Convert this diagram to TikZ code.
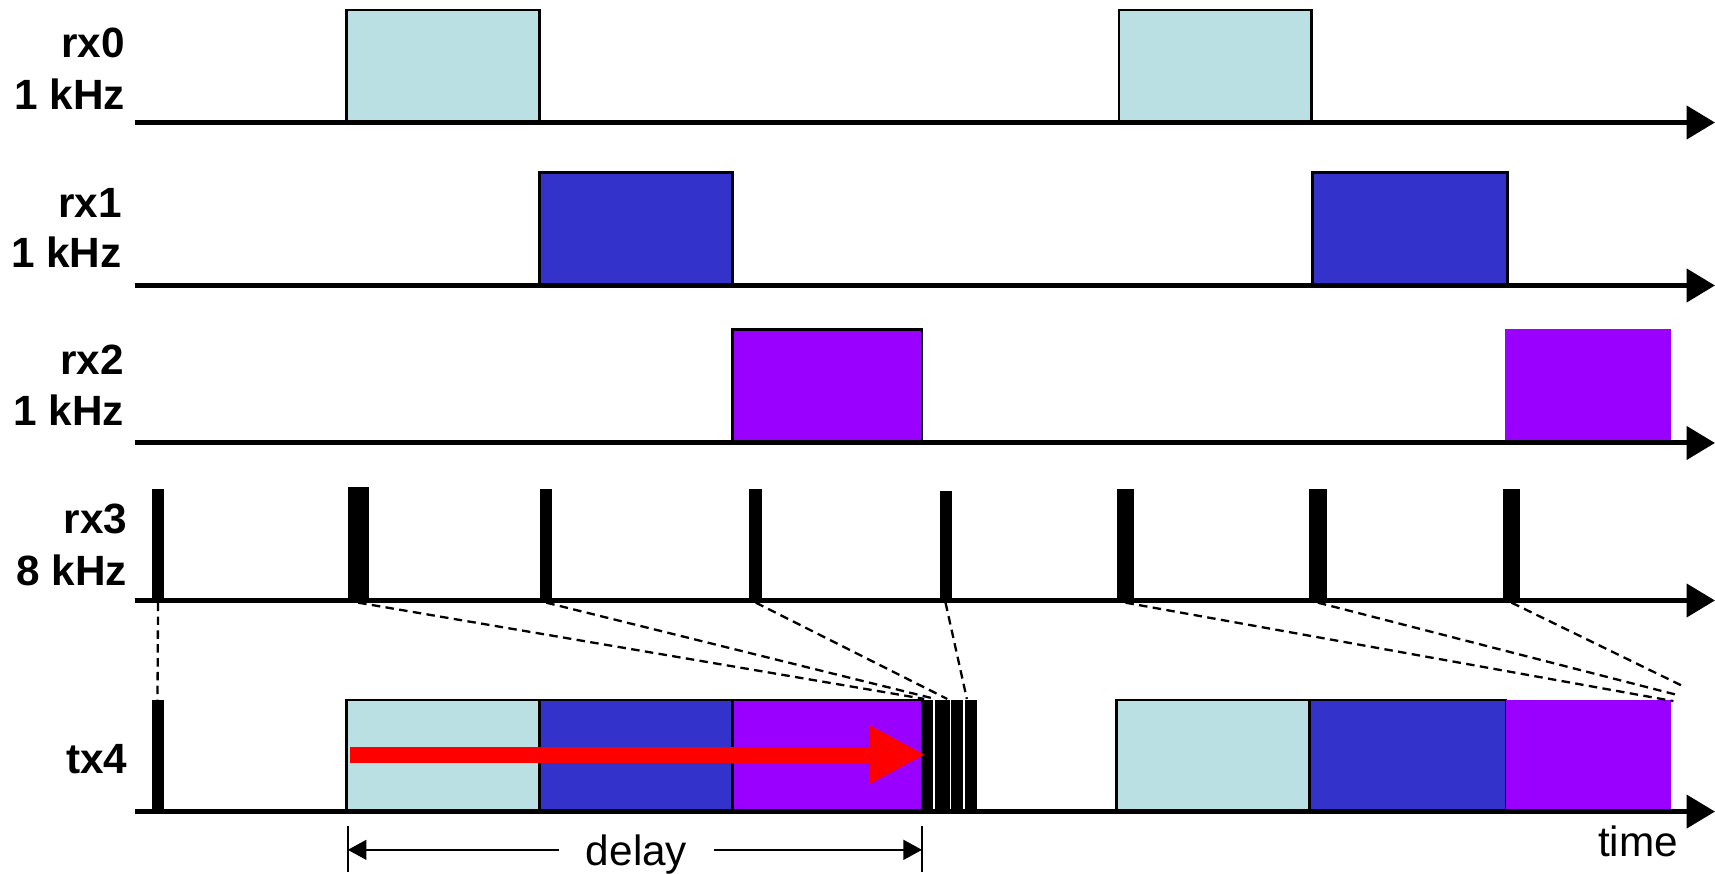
\documentclass[tikz,border=0pt]{standalone}
\usepackage{fontspec}
\setmainfont{Liberation Sans}
\usetikzlibrary{arrows.meta}

\definecolor{slotA}{RGB}{186,224,227}
\definecolor{slotB}{RGB}{51,51,204}
\definecolor{slotC}{RGB}{153,0,255}

\tikzset{
  axis/.style={line width=1.3pt, -{Triangle[length=0.26cm,width=0.3cm]}},
  slot/.style={draw=black, line width=0.7pt},
  map/.style={dash pattern=on 2.2pt off 1.4pt, line width=0.6pt},
  chan/.style={font=\bfseries\fontsize{11}{13}\selectfont, anchor=base east, inner sep=0pt},
  dim/.style={line width=0.6pt},
  dimtip/.style={dim, -{Triangle[length=0.17cm,width=0.18cm]}},
}

\begin{document}
\begin{tikzpicture}[x=0.01cm, y=-0.01cm]
  \useasboundingbox (0,0) rectangle (1568,799);

  % 1 kHz input slots
  \filldraw[slot, fill=slotA] (317,9) rectangle (493,112);
  \filldraw[slot, fill=slotA] (1023,9) rectangle (1199,112);
  \filldraw[slot, fill=slotB] (493,158) rectangle (670,261);
  \filldraw[slot, fill=slotB] (1200,158) rectangle (1378,261);
  \filldraw[slot, fill=slotC] (670,301) rectangle (843,405);
  \fill[slotC] (1376,301) rectangle (1528,405);

  % 8 kHz pulses on rx3
  \foreach \i/\xl/\xr/\yt in {1/139/150/447, 2/318/337/445, 3/494/505/447,
      4/685/697/447, 5/859/870/449, 6/1021/1037/447, 7/1197/1213/447,
      8/1374/1390/447} {
    \fill (\xl,\yt) rectangle (\xr,549);
    \coordinate (p\i) at ({(\xl+\xr)/2},551);
  }

  % where each pulse lands on tx4
  \coordinate (e1) at (144,640);
  \coordinate (e2) at (845,639);
  \coordinate (e3) at (855,639);
  \coordinate (e4) at (866,639);
  \coordinate (e5) at (884,639);
  \coordinate (e6) at (1530,641);
  \coordinate (e7) at (1532,635);
  \coordinate (e8) at (1538,627);

  % tx4 output frame
  \fill (139,640) rectangle (150,742);
  \filldraw[slot, fill=slotA] (317,640) rectangle (493,742);
  \filldraw[slot, fill=slotB] (493,640) rectangle (670,742);
  \filldraw[slot, fill=slotC] (670,640) rectangle (843,742);
  \fill (843,640) rectangle (893,742);
  \foreach \x in {854,869,881}
    \draw[white, line width=0.5pt] (\x,640) -- (\x,742);
  \filldraw[slot, fill=slotA] (1021,640) rectangle (1197,742);
  \filldraw[slot, fill=slotB] (1197,640) rectangle (1377,742);
  \fill[slotC] (1377,640) rectangle (1528,742);

  \foreach \i in {1,...,8}
    \draw[map] (p\i) -- (e\i);

  % time axes
  \foreach \y in {112,261,405,549,742}
    \draw[axis] (123,\y) -- (1568,\y);

  \draw[red, line width=4.2pt, -{Triangle[length=0.51cm,width=0.5cm]}] (320,690) -- (846,690);

  % channel names
  \node[chan] (rx0name) at (115,53) {rx0};
  \node[chan] (rx0rate) at (115,100) {1 kHz};
  \node[chan] (rx1name) at (112,199) {rx1};
  \node[chan] (rx1rate) at (112,245) {1 kHz};
  \node[chan] (rx2name) at (114,342) {rx2};
  \node[chan] (rx2rate) at (114,389) {1 kHz};
  \node[chan] (rx3name) at (117,488) {rx3};
  \node[chan] (rx3rate) at (117,535) {8 kHz};
  \node[chan] (tx4name) at (117,707) {tx4};

  % delay span
  \coordinate (dl) at (318,777);
  \coordinate (dr) at (843,777);
  \draw[dim] (318,755) -- (318,797);
  \draw[dim] (843,755) -- (843,797);
  \node[font=\fontsize{11}{13}\selectfont, anchor=base, inner ysep=0pt, inner xsep=0.24cm] (delay) at (582,791) {delay};
  \draw[dimtip] (delay.west |- dl) -- (dl);
  \draw[dimtip] (delay.east |- dr) -- (dr);

  \node[font=\fontsize{11}{13}\selectfont, anchor=base east, inner sep=0pt] (time) at (1535,783) {time};
\end{tikzpicture}
\end{document}
